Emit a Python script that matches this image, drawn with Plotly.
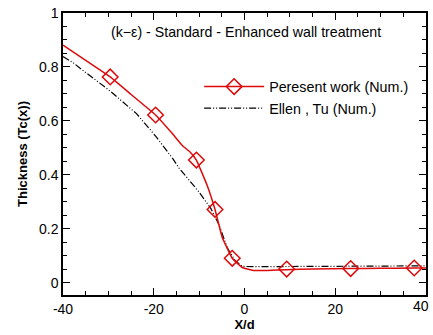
import plotly.graph_objects as go

# Present work (Num.) - smooth curve and sampled marker positions
present_x = [-40, -35, -29.6, -25, -19.6, -16, -13.6, -12, -10.6, -8.2, -6.5, -4.9,
             -2.7, -0.5, 1.7, 5, 9.3, 15, 23.4, 30, 37.4, 40]
present_y = [0.881, 0.824, 0.763, 0.698, 0.622, 0.555, 0.507, 0.485, 0.455, 0.36, 0.272,
             0.168, 0.091, 0.057, 0.047, 0.046, 0.049, 0.051, 0.053, 0.054, 0.055, 0.055]
marker_x = [-29.6, -19.6, -10.6, -6.5, -2.7, 9.3, 23.4, 37.4]
marker_y = [0.763, 0.622, 0.455, 0.272, 0.091, 0.051, 0.053, 0.055]

# Ellen, Tu (Num.)
ellen_x = [-40, -37.7, -36.3, -33, -29.7, -23.8, -19.5, -15.8, -14.4, -10.0, -7.4,
           -5.6, -3.8, -2.0, -0.5, 2, 10, 20, 30, 40]
ellen_y = [0.839, 0.815, 0.796, 0.755, 0.712, 0.627, 0.542, 0.460, 0.425, 0.336,
           0.275, 0.215, 0.13, 0.081, 0.061, 0.060, 0.061, 0.062, 0.062, 0.063]

x_ticks = [-40, -20, 0, 20, 40]
x_tick_text = ["-40", "-20", "0", "20", "40"]
y_ticks = [0, 0.2, 0.4, 0.6, 0.8, 1]
y_tick_text = ["0", "0.2", "0.4", "0.6", "0.8", "1"]

RED = "#dd0a0a"
FONT = "Liberation Sans, Arial, sans-serif"
DASH = "7px,2px,1px,2px,1px,2px"
TICK_SIZE = 14

fig = go.Figure()

fig.add_trace(go.Scatter(
    x=ellen_x, y=ellen_y, mode="lines", name="Ellen , Tu (Num.)",
    line=dict(color="black", width=1.2, dash=DASH),
    showlegend=False,
))
fig.add_trace(go.Scatter(
    x=present_x, y=present_y, mode="lines", showlegend=False,
    line=dict(color=RED, width=1.5, shape="spline", smoothing=0.3),
))
fig.add_trace(go.Scatter(
    x=marker_x, y=marker_y, mode="markers", showlegend=False,
    marker=dict(symbol="diamond-open", size=12, color=RED, line=dict(width=1.5, color=RED)),
))
# legend entries
fig.add_trace(go.Scatter(
    x=[None], y=[None], mode="lines+markers", name="Peresent work (Num.)",
    line=dict(color=RED, width=1.5),
    marker=dict(symbol="diamond-open", size=12, color=RED, line=dict(width=1.5, color=RED)),
))
fig.add_trace(go.Scatter(
    x=[None], y=[None], mode="lines", name="Ellen , Tu (Num.)",
    line=dict(color="black", width=1.2, dash=DASH),
))

axis_common = dict(
    showline=True, linecolor="black", linewidth=1.5, mirror="allticks",
    ticks="inside", ticklen=7, tickwidth=1.2, tickcolor="black",
    showgrid=False, zeroline=False,
    tickfont=dict(family=FONT, size=TICK_SIZE, color="black"),
)

# the last x label sits on the page edge, where plotly would drop it;
# the axis keeps the tick and the label is written as an annotation
axis_labels = x_tick_text[:-1] + [""]
edge_label = dict(
    text=x_tick_text[-1], xref="x", yref="paper", x=x_ticks[-1], y=0,
    xanchor="right", xshift=5, yanchor="top", yshift=-1, showarrow=False,
    font=dict(size=TICK_SIZE, family=FONT, color="black"),
)

fig.update_layout(
    width=433, height=335,
    margin=dict(l=63, r=5, t=12, b=37),
    paper_bgcolor="white", plot_bgcolor="white",
    font=dict(family=FONT, color="black"),
    xaxis=dict(
        range=[-40, 40], tickvals=x_ticks, ticktext=axis_labels,
        minor=dict(dtick=5, ticks="inside", ticklen=4, tickcolor="black", tickwidth=1),
        title=dict(text="<b>X/d</b>", font=dict(size=13, family=FONT), standoff=4),
        **axis_common,
    ),
    yaxis=dict(
        range=[-0.045, 1], tickvals=y_ticks, ticktext=y_tick_text,
        minor=dict(dtick=0.05, tick0=0, ticks="inside", ticklen=4, tickcolor="black", tickwidth=1),
        title=dict(text="<b>Thickness (Tc(x))</b>", font=dict(size=13, family=FONT), standoff=8),
        **axis_common,
    ),
    legend=dict(
        x=0.375, y=0.795, xanchor="left", yanchor="top",
        bgcolor="rgba(0,0,0,0)", font=dict(size=14.3, family=FONT),
        tracegroupgap=0, itemwidth=60,
    ),
    annotations=[
        dict(
            text="(k\u2212\u03b5) - Standard - Enhanced wall treatment",
            xref="paper", yref="paper", x=0.505, y=0.934, xanchor="center", yanchor="middle",
            showarrow=False, font=dict(size=14.2, family=FONT, color="black"),
        ),
        edge_label,
    ],
)

fig.write_html("out.html")
